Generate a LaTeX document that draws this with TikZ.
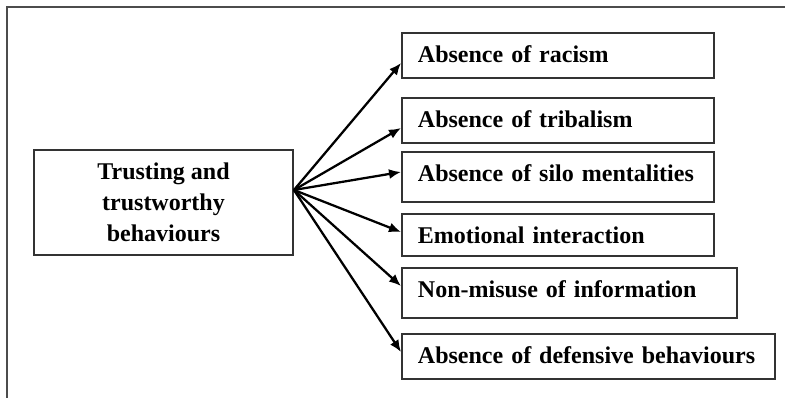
\documentclass[tikz,border=0pt]{standalone}
\usepackage{fontspec}
\setmainfont{Liberation Serif}
\usetikzlibrary{arrows.meta,calc}

\tikzset{
  box/.style={draw=black!80, line width=1.4pt, font=\bfseries\fontsize{18}{23.25}\selectfont},
  itembox/.style={box, anchor=north west, inner xsep=12pt, inner ysep=0pt, text height=22.5pt, align=left},
  link/.style={-{Latex[length=9pt,width=7.5pt]}, line width=1.7pt}
}

\begin{document}
\begin{tikzpicture}[x=0.75pt,y=0.75pt,yscale=-1,xscale=1]
\useasboundingbox (0,0) rectangle (785,398);

%Frame lines
\draw [black!70, line width=0.9pt] (785,7) -- (7,7) -- (7,398);

%Main box
\node [box, minimum width=194.25pt, minimum height=78.75pt, align=center] (trust) at (163.5,202.5) {Trusting and\\trustworthy\\behaviours};

%Item boxes
\node [itembox, text width=210pt, text depth=11.25pt] (racism) at (401,32) {Absence of racism};
\node [itembox, text width=210pt, text depth=11.25pt] (tribalism) at (401,97) {Absence of tribalism};
\node [itembox, text width=210pt, text depth=15pt] (silo) at (401,151) {Absence of silo mentalities};
\node [itembox, text width=210pt, text depth=9pt] (emotional) at (401,213) {Emotional interaction};
\node [itembox, text width=227.25pt, text depth=15pt] (misuse) at (401,267) {Non-misuse of information};
\node [itembox, text width=255.75pt, text depth=11.25pt] (defensive) at (401,333) {Absence of defensive behaviours};

%Arrows
\coordinate (src) at ($(trust.east)+(0,-12.5)$);
\foreach \n/\d in {racism/31, tribalism/31, silo/21, emotional/19, misuse/19, defensive/19}
  \draw [link] (src) -- ($(\n.north west)+(0,\d)$);

\end{tikzpicture}
\end{document}
